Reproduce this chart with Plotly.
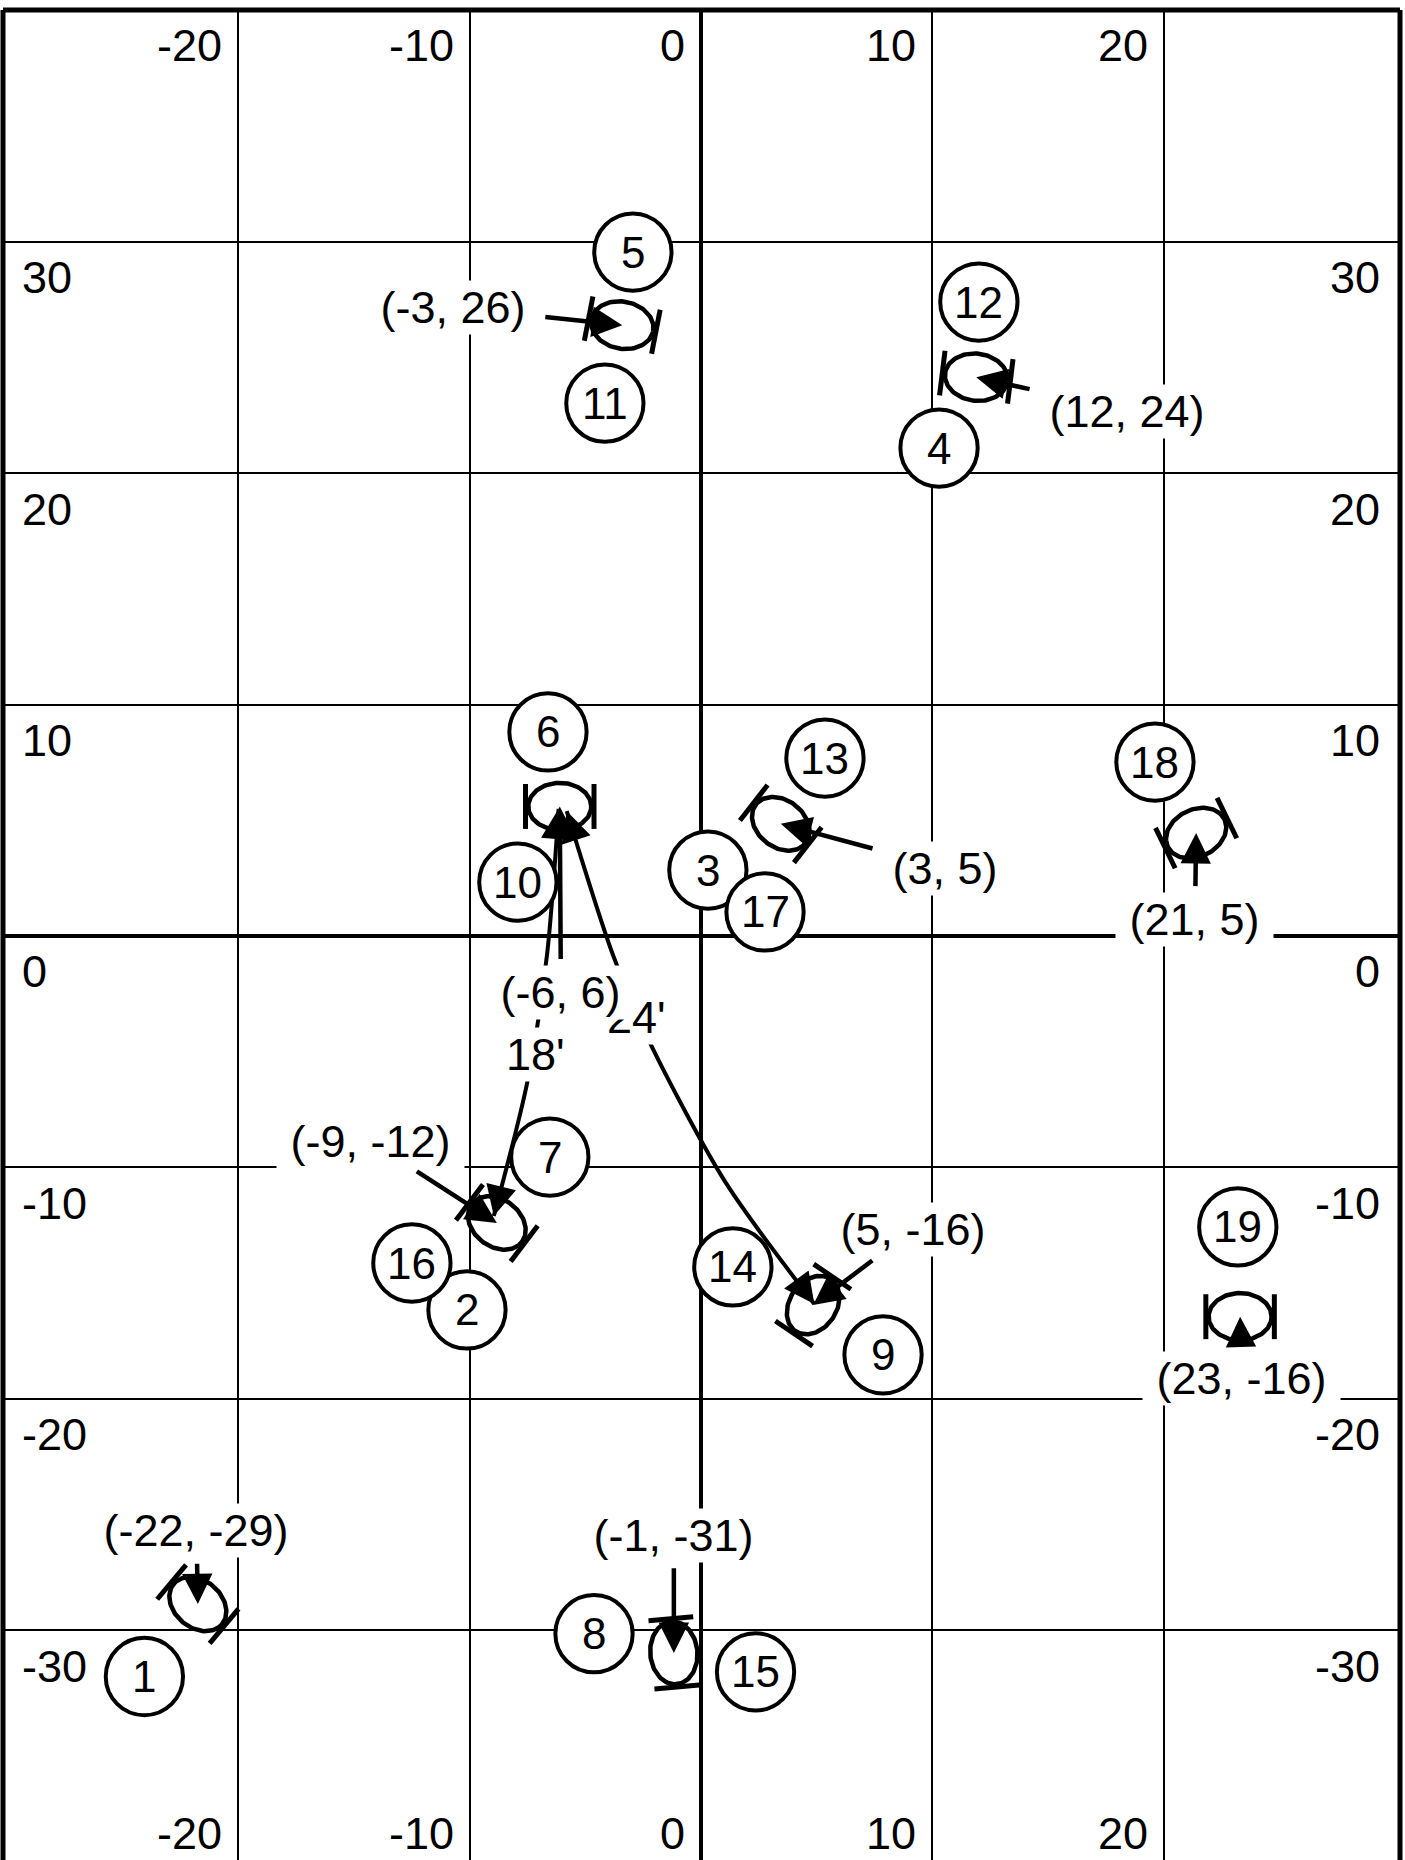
import numpy as np
import plotly.graph_objects as go

# ---------------- data ----------------
x_ticks = [-20, -10, 0, 10, 20]
y_ticks = [30, 20, 10, 0, -10, -20, -30]

circle_labels = ["1", "2", "3", "4", "5", "6", "7", "8", "9", "10",
                 "11", "12", "13", "14", "15", "16", "17", "18", "19"]
circle_x = [-24.05, -10.11, 0.30, 10.29, -2.94, -6.61, -6.53, -4.62, 7.87, -7.91,
            -4.15, 12.01, 5.36, 1.38, 2.36, -12.49, 2.77, 19.62, 23.20]
circle_y = [-32.0, -16.16, 2.85, 21.09, 29.56, 8.82, -9.55, -30.15, -18.10, 2.33,
            23.03, 27.40, 7.69, -14.30, -31.80, -14.13, 1.04, 7.52, -12.57]

hoop_text = ["(-3, 26)", "(12, 24)", "(-6, 6)", "(3, 5)", "(21, 5)",
             "(5, -16)", "(-9, -12)", "(23, -16)", "(-22, -29)", "(-1, -31)"]
hoop_x = [-3.40, 11.90, -6.10, 3.45, 21.40, 4.85, -8.82, 23.30, -21.74, -1.17]
hoop_y = [26.40, 24.15, 5.60, 4.85, 4.45, -15.95, -12.40, -16.45, -28.87, -30.98]
hoop_angle = [-11, -7, 0, -38, 26, 56, -37, 0, -40, 95]
label_x = [-10.72, 18.41, -6.05, 10.54, 21.35, 9.16, -14.30, 23.38, -21.80, -1.17]
label_y = [27.18, 22.69, -2.42, 2.94, 0.73, -12.70, -8.86, -19.10, -25.70, -25.90]

dist_text = ["18'", "24'"]
dist_label_x = [-7.13, -2.77]
dist_label_y = [-5.10, -3.50]
dist18_x = [-8.95, -7.50, -6.65, -6.15]
dist18_y = [-12.10, -6.30, -0.80, 5.50]
dist24_x = [4.90, 1.08, -2.20, -3.80, -5.80]
dist24_y = [-15.90, -10.67, -4.62, -0.82, 5.40]

# ---------------- style ----------------
FONT = "Liberation Sans, Arial, sans-serif"
FS = 45
FS_CIRC = 44
ELL_A, ELL_B = 1.36, 1.02
BAR_OFF, BAR_HALF = 1.48, 0.97
CIRC_R = 1.67

fig = go.Figure()

# hoops: ellipse + end bars
for cx, cy, ang in zip(hoop_x, hoop_y, hoop_angle):
    c, s = np.cos(np.radians(ang)), np.sin(np.radians(ang))
    t = np.linspace(0, 2 * np.pi, 120)
    ex = cx + ELL_A * np.cos(t) * c - ELL_B * np.sin(t) * s
    ey = cy + ELL_A * np.cos(t) * s + ELL_B * np.sin(t) * c
    fig.add_trace(go.Scatter(x=ex, y=ey, mode="lines", fill="toself",
                             fillcolor="white", line=dict(color="black", width=4.5),
                             hoverinfo="skip", showlegend=False))
    bx, by = [], []
    for k in (-1, 1):
        mx, my = cx + k * BAR_OFF * c, cy + k * BAR_OFF * s
        bx += [mx - BAR_HALF * (-s), mx + BAR_HALF * (-s), None]
        by += [my - BAR_HALF * c, my + BAR_HALF * c, None]
    fig.add_trace(go.Scatter(x=bx, y=by, mode="lines",
                             line=dict(color="black", width=5),
                             hoverinfo="skip", showlegend=False))

# distance curves
for dx, dy in ((dist18_x, dist18_y), (dist24_x, dist24_y)):
    fig.add_trace(go.Scatter(x=dx, y=dy, mode="lines",
                             line=dict(color="black", width=4, shape="spline", smoothing=0.8),
                             hoverinfo="skip", showlegend=False))

annotations = []
# arrowheads on both ends of distance curves
for dx, dy in ((dist18_x, dist18_y), (dist24_x, dist24_y)):
    for i_end, i_prev in ((0, 1), (-1, -2)):
        vx, vy = dx[i_end] - dx[i_prev], dy[i_end] - dy[i_prev]
        n = np.hypot(vx, vy)
        annotations.append(dict(x=dx[i_end], y=dy[i_end], ax=dx[i_end] - 1.2 * vx / n,
                                ay=dy[i_end] - 1.2 * vy / n, axref="x", ayref="y",
                                xref="x", yref="y", text="", showarrow=True,
                                arrowhead=2, arrowsize=1.35, arrowwidth=4.5,
                                arrowcolor="black"))

# distance labels
for tx, lx, ly in zip(dist_text, dist_label_x, dist_label_y):
    annotations.append(dict(x=lx, y=ly, xref="x", yref="y", text=tx, showarrow=False,
                            font=dict(family=FONT, size=FS, color="black"),
                            bgcolor="white", borderpad=1))

# hoop labels with arrows
for tx, hx, hy, lx, ly in zip(hoop_text, hoop_x, hoop_y, label_x, label_y):
    annotations.append(dict(x=hx, y=hy, ax=lx, ay=ly, axref="x", ayref="y",
                            xref="x", yref="y", text="\u00a0" + tx + "\u00a0",
                            showarrow=True, arrowhead=2, arrowsize=1.35, arrowwidth=4.5,
                            arrowcolor="black", standoff=0, startstandoff=6,
                            font=dict(family=FONT, size=FS, color="black"),
                            bgcolor="white", borderpad=1))

# circled numbers
shapes = []
for lab, cx, cy in zip(circle_labels, circle_x, circle_y):
    shapes.append(dict(type="circle", xref="x", yref="y",
                       x0=cx - CIRC_R, x1=cx + CIRC_R, y0=cy - CIRC_R, y1=cy + CIRC_R,
                       fillcolor="white", line=dict(color="black", width=4), layer="above"))
    annotations.append(dict(x=cx, y=cy, xref="x", yref="y", text=lab, showarrow=False,
                            font=dict(family=FONT, size=FS_CIRC, color="black")))

# tick labels inside the frame
for v in x_ticks:
    for yy in (38.5, -38.8):
        annotations.append(dict(x=v - 0.6, y=yy, xref="x", yref="y", text=str(v),
                                xanchor="right", showarrow=False,
                                font=dict(family=FONT, size=FS, color="black")))
for v in y_ticks:
    annotations.append(dict(x=-29.43, y=v - 1.55, xref="x", yref="y", text=str(v),
                            xanchor="left", showarrow=False,
                            font=dict(family=FONT, size=FS, color="black")))
    annotations.append(dict(x=29.43, y=v - 1.55, xref="x", yref="y", text=str(v),
                            xanchor="right", showarrow=False,
                            font=dict(family=FONT, size=FS, color="black")))

# frame (left, top, right)
for x0, y0, x1, y1 in ((0, 0, 0, 1), (0, 1, 1, 1), (1, 0, 1, 1)):
    shapes.append(dict(type="line", xref="paper", yref="paper", x0=x0, y0=y0, x1=x1, y1=y1,
                       line=dict(color="black", width=5), layer="above"))

fig.update_layout(
    width=1405, height=1860,
    margin=dict(l=3, r=5, t=10, b=0),
    paper_bgcolor="white", plot_bgcolor="white",
    showlegend=False,
    shapes=shapes, annotations=annotations,
    xaxis=dict(range=[-30.16, 30.21], autorange=False, tickvals=[-20, -10, 10, 20],
               showticklabels=False, ticks="", showgrid=True, gridcolor="black", gridwidth=1.5,
               zeroline=True, zerolinecolor="black", zerolinewidth=4, showline=False),
    yaxis=dict(range=[-39.93, 40.02], autorange=False, tickvals=[-30, -20, -10, 10, 20, 30],
               showticklabels=False, ticks="", showgrid=True, gridcolor="black", gridwidth=1.5,
               zeroline=True, zerolinecolor="black", zerolinewidth=4, showline=False),
)

fig.write_html("out.html", config={"displayModeBar": False},
               post_script="document.body.style.margin='0';document.body.style.overflow='hidden';")
